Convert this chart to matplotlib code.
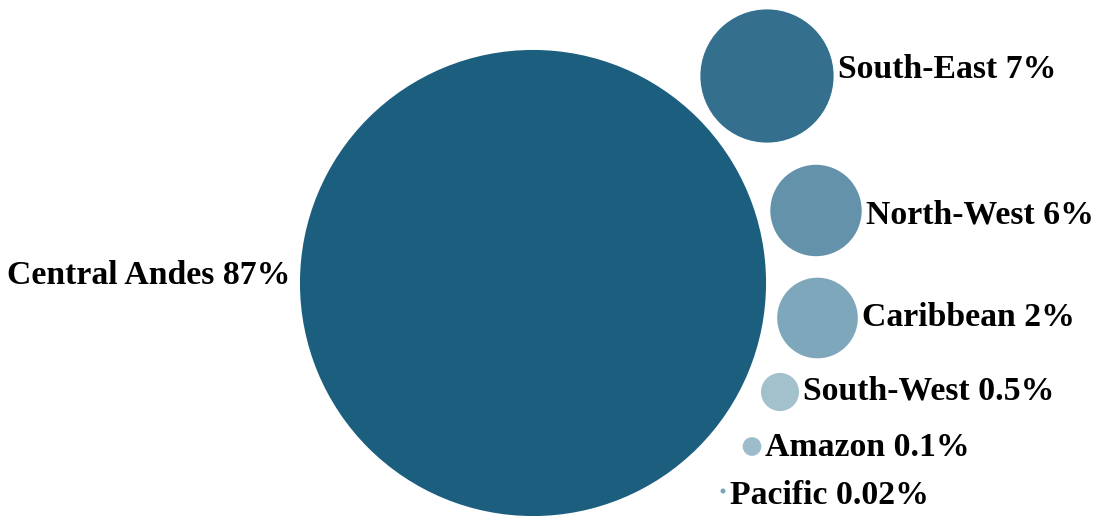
import numpy as np
import matplotlib
matplotlib.use("Agg")
import matplotlib.pyplot as plt
from matplotlib.patches import Circle

# ---- data ----
regions = ["Central Andes", "South-East", "North-West", "Caribbean",
           "South-West", "Amazon", "Pacific"]
share_labels = ["87%", "7%", "6%", "2%", "0.5%", "0.1%", "0.02%"]
# relative bubble sizes (area)
bubble_sizes = [86.9, 7.1, 3.34, 2.6, 0.58, 0.14, 0.01]
colors = ["#1b5e7e", "#34708e", "#6492aa", "#7fa7bb", "#a3c0cd",
          "#9cbccb", "#7aa3b8"]

# ---- layout (pixel space) ----
centers = [(533, 283), (767, 76), (816, 210.5), (817.5, 318),
           (780, 392), (752, 446.5), (723, 491)]
label_side = ["left", "right", "right", "right", "right", "right", "right"]
label_dy = [-8, -6, 5, -1, -1, 1, 5]
scale = 25.0  # px radius per sqrt(size)

W, H = 1107, 516
fig = plt.figure(figsize=(W / 100, H / 100), dpi=100)
ax = fig.add_axes([0, 0, 1, 1])
ax.set_xlim(0, W)
ax.set_ylim(H, 0)
ax.set_aspect("equal")
ax.axis("off")

for name, lab, s, c, (cx, cy), side, dy in zip(regions, share_labels, bubble_sizes,
                                               colors, centers, label_side, label_dy):
    r = scale * np.sqrt(s)
    ax.add_patch(Circle((cx, cy), r, facecolor=c, edgecolor="none"))
    r_lab = max(r, 3)
    if side == "left":
        ax.text(cx - r - 10, cy + dy, f"{name} {lab}", ha="right", va="center",
                family="Liberation Serif", fontweight="bold", fontsize=24.3, color="black")
    else:
        ax.text(cx + r_lab + 4, cy + dy, f"{name} {lab}", ha="left", va="center",
                family="Liberation Serif", fontweight="bold", fontsize=24.3, color="black")

fig.savefig("out.png", dpi=100, facecolor="white")
